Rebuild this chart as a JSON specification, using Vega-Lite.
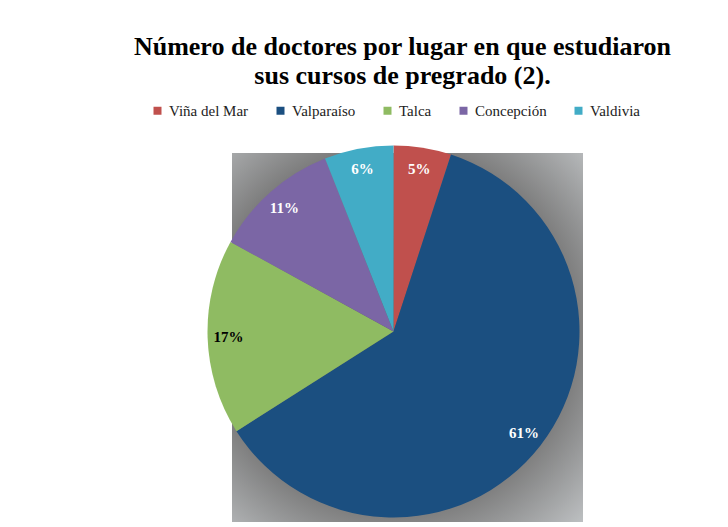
{
  "$schema": "https://vega.github.io/schema/vega-lite/v6.json",
  "width": 351,
  "height": 369,
  "autosize": {"type": "none"},
  "padding": {"left": 232, "top": 153, "right": 145, "bottom": 5},
  "background": "white",
  "config": {
    "view": {"stroke": null},
    "font": "Liberation Serif"
  },
  "title": {
    "text": ["Número de doctores por lugar en que estudiaron", "sus cursos de pregrado (2)."],
    "font": "Liberation Serif",
    "fontSize": 26,
    "fontWeight": "bold",
    "color": "#000000",
    "anchor": "middle",
    "lineHeight": 29,
    "dx": -5,
    "offset": 14
  },
  "datasets": {
    "lugares": [
      {"lugar": "Viña del Mar", "pct": 5, "orden": 1, "label": "5%"},
      {"lugar": "Valparaíso", "pct": 61, "orden": 2, "label": "61%"},
      {"lugar": "Talca", "pct": 17, "orden": 3, "label": "17%"},
      {"lugar": "Concepción", "pct": 11, "orden": 4, "label": "11%"},
      {"lugar": "Valdivia", "pct": 6, "orden": 5, "label": "6%"}
    ],
    "fondo": [{"panel": "fondo"}]
  },
  "layer": [
    {
      "data": {"name": "fondo"},
      "mark": {
        "type": "rect",
        "fill": {
          "gradient": "radial",
          "x1": 0.46, "y1": 0.48, "r1": 0,
          "x2": 0.46, "y2": 0.48, "r2": 0.75,
          "stops": [
            {"offset": 0, "color": "#5a5a5a"},
            {"offset": 0.66, "color": "#7c7c7c"},
            {"offset": 1, "color": "#c2c5c7"}
          ]
        }
      },
      "encoding": {
        "x": {"value": 0},
        "x2": {"value": "width"},
        "y": {"value": 0},
        "y2": {"value": "height"}
      }
    },
    {
      "data": {"name": "lugares"},
      "mark": {"type": "arc", "outerRadius": 186, "xOffset": -14, "yOffset": -6},
      "encoding": {
        "theta": {"field": "pct", "type": "quantitative", "stack": true},
        "order": {"field": "orden", "type": "quantitative"},
        "color": {
          "field": "lugar",
          "type": "nominal",
          "sort": ["Viña del Mar", "Valparaíso", "Talca", "Concepción", "Valdivia"],
          "scale": {
            "domain": ["Viña del Mar", "Valparaíso", "Talca", "Concepción", "Valdivia"],
            "range": ["#c0504d", "#1b4f80", "#8fbb62", "#7b66a5", "#42acc6"]
          },
          "legend": {
            "title": null,
            "orient": "none",
            "legendX": -82,
            "legendY": -50,
            "direction": "horizontal",
            "symbolType": "square",
            "symbolSize": 64,
            "symbolStrokeWidth": 0,
            "labelFont": "Liberation Serif",
            "labelFontSize": 15,
            "labelColor": "#222222",
            "columnPadding": 24,
            "labelOffset": 4
          }
        }
      }
    },
    {
      "data": {"name": "lugares"},
      "mark": {"type": "text", "radius": 165, "xOffset": -14, "yOffset": -6, "font": "Liberation Serif", "fontSize": 15, "fontWeight": "bold"},
      "encoding": {
        "theta": {"field": "pct", "type": "quantitative", "stack": true},
        "order": {"field": "orden", "type": "quantitative"},
        "text": {"field": "label", "type": "nominal"},
        "color": {
          "condition": {"test": "datum.lugar === 'Talca'", "value": "#000000"},
          "value": "#ffffff"
        }
      }
    }
  ]
}
